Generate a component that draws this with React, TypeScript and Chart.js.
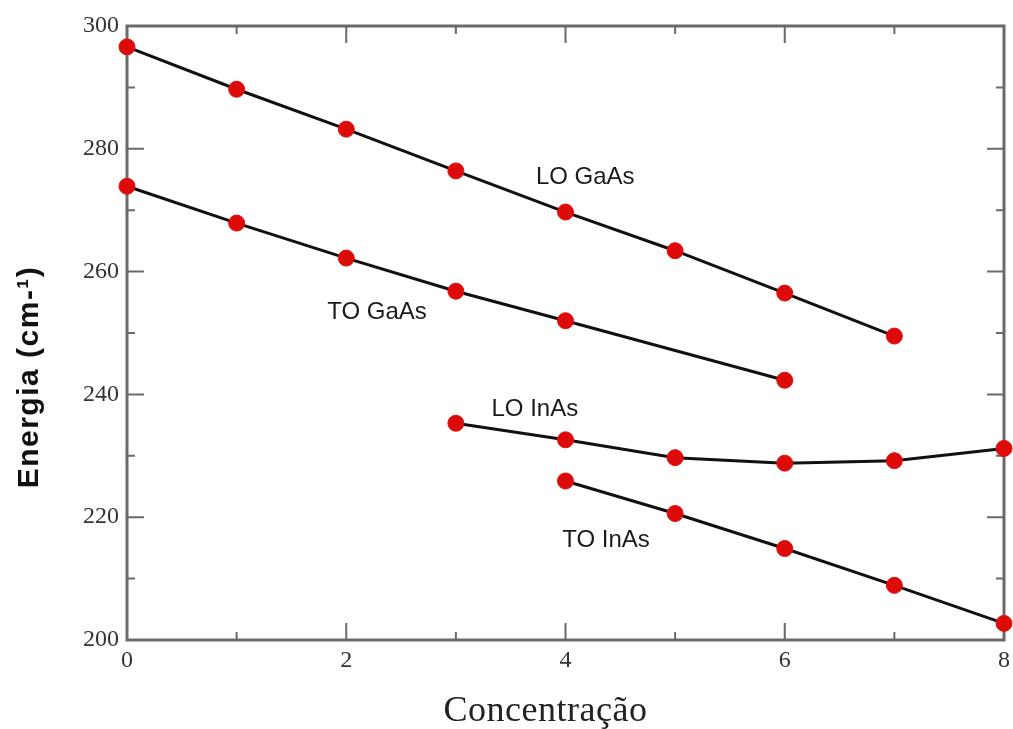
import React, { useEffect, useRef } from "react";
import { Chart, registerables } from "chart.js";

Chart.register(...registerables);

// Concentration values (x) and phonon energies (cm-1) for each mode
const loGaAsX = [0, 1, 2, 3, 4, 5, 6, 7];
const loGaAsY = [296.6, 289.7, 283.2, 276.4, 269.7, 263.4, 256.5, 249.5];

const toGaAsX = [0, 1, 2, 3, 4, 6];
const toGaAsY = [273.9, 267.9, 262.2, 256.8, 252.0, 242.3];

const loInAsX = [3, 4, 5, 6, 7, 8];
const loInAsY = [235.3, 232.6, 229.7, 228.8, 229.2, 231.2];

const toInAsX = [4, 5, 6, 7, 8];
const toInAsY = [225.9, 220.6, 214.9, 208.9, 202.7];

// Mode labels placed in data coordinates
const labelTexts = ["LO GaAs", "TO GaAs", "LO InAs", "TO InAs"];
const labelX = [4.18, 2.28, 3.72, 4.37];
const labelY = [275.4, 253.4, 237.6, 216.2];

const xTitle = "Concentração";
const yTitle = "Energia (cm-¹)";

const toPoints = (xs: number[], ys: number[]) => xs.map((x, i) => ({ x, y: ys[i] }));

const series = [
  { label: "LO GaAs", xs: loGaAsX, ys: loGaAsY },
  { label: "TO GaAs", xs: toGaAsX, ys: toGaAsY },
  { label: "LO InAs", xs: loInAsX, ys: loInAsY },
  { label: "TO InAs", xs: toInAsX, ys: toInAsY },
];

const framePlugin = {
  id: "frameAndLabels",
  beforeDatasetsDraw(chart: any) {
    const { ctx, chartArea, scales } = chart;
    const { left, right, top, bottom } = chartArea;
    const xs = scales.x;
    const ys = scales.y;
    ctx.save();
    // box frame
    ctx.strokeStyle = "#6a6a6a";
    ctx.lineWidth = 3;
    ctx.strokeRect(left, top, right - left, bottom - top);
    // inward ticks on all four sides
    ctx.lineWidth = 2;
    const major = 17;
    const minor = 8;
    for (let v = 0; v <= 8; v += 1) {
      const px = xs.getPixelForValue(v);
      const len = v % 2 === 0 ? major : minor;
      ctx.beginPath();
      ctx.moveTo(px, bottom);
      ctx.lineTo(px, bottom - len);
      ctx.moveTo(px, top);
      ctx.lineTo(px, top + len);
      ctx.stroke();
    }
    for (let v = 200; v <= 300; v += 10) {
      const py = ys.getPixelForValue(v);
      const len = v % 20 === 0 ? major : minor;
      ctx.beginPath();
      ctx.moveTo(left, py);
      ctx.lineTo(left + len, py);
      ctx.moveTo(right, py);
      ctx.lineTo(right - len, py);
      ctx.stroke();
    }
    ctx.restore();
  },
  afterDraw(chart: any) {
    const { ctx, chartArea, scales } = chart;
    ctx.save();
    // mode labels
    ctx.fillStyle = "#1a1a1a";
    ctx.font = "24px 'Liberation Sans', Arial, sans-serif";
    ctx.textAlign = "center";
    ctx.textBaseline = "middle";
    labelTexts.forEach((t, i) => {
      ctx.fillText(t, scales.x.getPixelForValue(labelX[i]), scales.y.getPixelForValue(labelY[i]));
    });
    // x axis title
    ctx.font = "36px 'Liberation Serif', 'Times New Roman', serif";
    (ctx as any).letterSpacing = "0.5px";
    ctx.fillStyle = "#222";
    ctx.fillText(xTitle, (chartArea.left + chartArea.right) / 2 - 20, 712);
    // y axis title
    ctx.translate(30, 377);
    ctx.rotate(-Math.PI / 2);
    ctx.font = "bold 30px 'Liberation Sans', Arial, sans-serif";
    (ctx as any).letterSpacing = "1.5px";
    ctx.fillStyle = "#111";
    ctx.fillText(yTitle, 0, 0);
    ctx.restore();
  },
};

export default function App() {
  const canvasRef = useRef<HTMLCanvasElement | null>(null);

  useEffect(() => {
    if (!canvasRef.current) return;
    const chart = new Chart(canvasRef.current, {
      type: "line",
      data: {
        datasets: series.map((s) => ({
          label: s.label,
          data: toPoints(s.xs, s.ys),
          borderColor: "#111",
          borderWidth: 3,
          backgroundColor: "#dd0a0a",
          pointBackgroundColor: "#dd0a0a",
          pointBorderColor: "#e01010",
          pointBorderWidth: 1,
          pointRadius: 8,
          tension: 0,
          fill: false,
          clip: false,
        })),
      },
      options: {
        animation: false,
        responsive: true,
        maintainAspectRatio: false,
        layout: { padding: { left: 0, right: 9, top: 26, bottom: 0 } },
        plugins: {
          legend: { display: false },
          tooltip: { enabled: false },
        },
        scales: {
          x: {
            type: "linear",
            min: 0,
            max: 8,
            grid: { display: false, drawTicks: false },
            border: { display: false },
            afterFit: (scale: any) => {
              scale.height = 89;
              scale.paddingLeft = 0;
              scale.paddingRight = 0;
            },
            ticks: {
              stepSize: 2,
              padding: 6,
              color: "#333",
              font: { family: "'Liberation Serif', 'Times New Roman', serif", size: 24 },
            },
          },
          y: {
            type: "linear",
            min: 200,
            max: 300,
            grid: { display: false, drawTicks: false },
            border: { display: false },
            afterFit: (scale: any) => {
              scale.width = 127;
              scale.paddingTop = 0;
              scale.paddingBottom = 0;
            },
            ticks: {
              stepSize: 20,
              padding: 8,
              color: "#333",
              font: { family: "'Liberation Serif', 'Times New Roman', serif", size: 24 },
            },
          },
        },
      },
      plugins: [framePlugin],
    });
    return () => chart.destroy();
  }, []);

  return (
    <div style={{ position: "fixed", left: 0, top: 0, width: 1013, height: 729, background: "#fff" }}>
      <canvas ref={canvasRef} />
    </div>
  );
}
